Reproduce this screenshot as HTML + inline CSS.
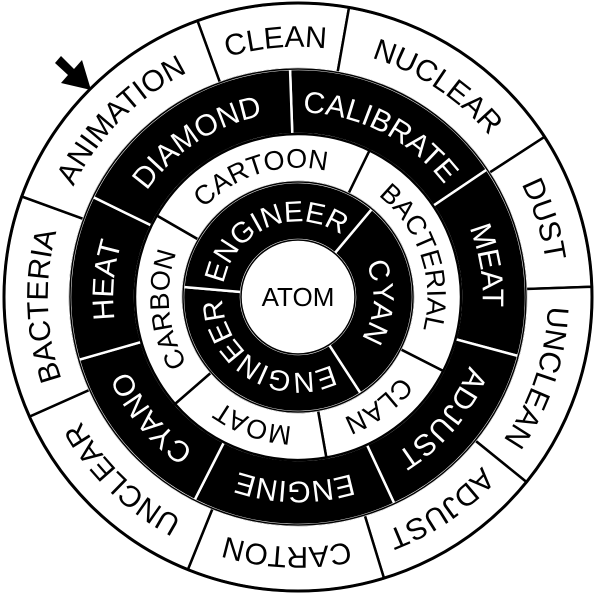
<!DOCTYPE html>
<html><head><meta charset="utf-8"><style>html,body{margin:0;padding:0;background:#fff}svg{display:block}</style></head>
<body>
<svg id="c" width="597" height="600" viewBox="0 0 597 600" xmlns="http://www.w3.org/2000/svg">
<polygon points="55,63 61,56 74,69 82,60 91,90 61,83 68,75" fill="#000"/>
</svg>
<script>
const ringLabels = [
  ["CLEAN","NUCLEAR","DUST","UNCLEAN","ADJUST","CARTON","UNCLEAR","BACTERIA","ANIMATION"],
  ["CALIBRATE","MEAT","ADJUST","ENGINE","CYANO","HEAT","DIAMOND"],
  ["BACTERIAL","CLAN","MOAT","CARBON","CARTOON"],
  ["CYAN","ENGINEER","ENGINEER"]
];
const ringBounds = [
  [-20,10,57,88,129,163,202,246,290,340],
  [-2,56,105,155,207,254,296,358],
  [26,117,170,229,300,386],
  [40,147,275,400]
];
const ringRadii = [[228,294],[163,228],[115,163],[57,115]];
const ringDark = [false,true,false,true];
const ringFont = [30,30,27,29];
const cx=298, cy=297;
const svg=document.getElementById('c');
const NS='http://www.w3.org/2000/svg';
function pt(r,a){const t=a*Math.PI/180;return [cx+r*Math.sin(t), cy-r*Math.cos(t)];}
function sector(r0,r1,a0,a1){
  const p1=pt(r1,a0),p2=pt(r1,a1),p3=pt(r0,a1),p4=pt(r0,a0);const lg=(a1-a0)>180?1:0;
  return `M${p1} A${r1} ${r1} 0 ${lg} 1 ${p2} L${p3} A${r0} ${r0} 0 ${lg} 0 ${p4} Z`;
}
let pid=0;
ringLabels.forEach((labels,ri)=>{
  const [r0,r1]=ringRadii[ri];const b=ringBounds[ri];
  labels.forEach((lab,i)=>{
    const a0=b[i],a1=b[i+1];
    const p=document.createElementNS(NS,'path');
    
    
    p.setAttribute('d',sector(r0,r1,a0,a1));
    p.setAttribute('fill',ringDark[ri]?'#000':'#fff');
    p.setAttribute('stroke',ringDark[ri]?'#fff':'#000');
    p.setAttribute('stroke-width','2.5');
    svg.appendChild(p);
  });
});
[294,228,163,115,57].forEach((r,i)=>{
  const c=document.createElementNS(NS,'circle');
  
  
  c.setAttribute('cx',cx);c.setAttribute('cy',cy);c.setAttribute('r',r);
  c.setAttribute('fill','none');c.setAttribute('stroke','#000');c.setAttribute('stroke-width',i==0?'3':'1.5');
  svg.appendChild(c);
});
const defs=document.createElementNS(NS,'defs');svg.appendChild(defs);
ringLabels.forEach((labels,ri)=>{
  const [r0,r1]=ringRadii[ri];const b=ringBounds[ri];const fs=ringFont[ri];
  const rb=(r0+r1)/2-fs*0.36;
  labels.forEach((lab,i)=>{
    const mid=(b[i]+b[i+1])/2;
    const id='tp'+(pid++);
    const path=document.createElementNS(NS,'path');
    path.setAttribute('id',id);
    const s=pt(rb,mid-90),e=pt(rb,mid+90);
    path.setAttribute('d',`M${s} A${rb} ${rb} 0 0 1 ${e}`);
    defs.appendChild(path);
    const t=document.createElementNS(NS,'text');
    
    
    t.setAttribute('font-family','Liberation Sans, sans-serif');
    t.setAttribute('font-size',fs);
    t.setAttribute('fill',ringDark[ri]?'#fff':'#000');
    const tp=document.createElementNS(NS,'textPath');
    tp.setAttribute('href','#'+id);
    tp.setAttribute('startOffset','50%');
    tp.setAttribute('text-anchor','middle');
    tp.textContent=lab;
    t.appendChild(tp);svg.appendChild(t);
  });
});
const ct=document.createElementNS(NS,'text');


ct.setAttribute('x',cx);ct.setAttribute('y',cy+9);
ct.setAttribute('text-anchor','middle');
ct.setAttribute('font-family','Liberation Sans, sans-serif');
ct.setAttribute('font-size','26');
ct.textContent='ATOM';svg.appendChild(ct);
svg.appendChild(svg.querySelector('polygon'));
</script>
</body></html>
